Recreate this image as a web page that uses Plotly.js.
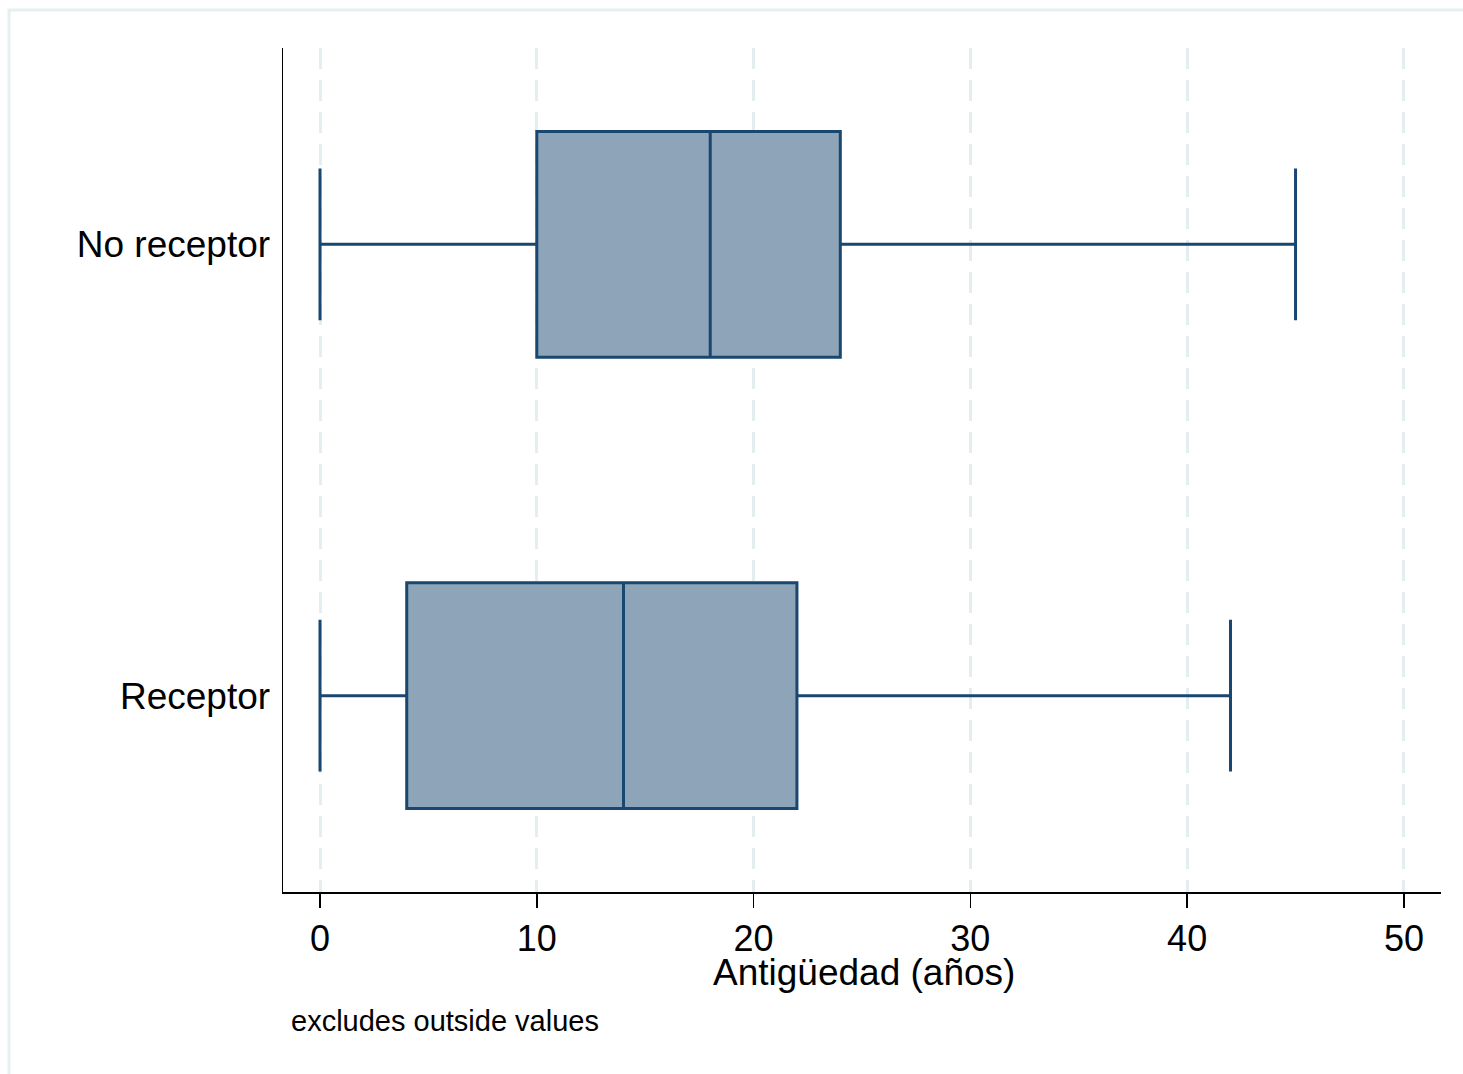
<!DOCTYPE html>
<html>
<head>
<meta charset="utf-8">
<script src="https://cdn.plot.ly/plotly-3.0.1.min.js"></script>
<style>html,body{margin:0;padding:0;background:#fff;}#chart{width:1463px;height:1074px;}</style>
</head>
<body>
<div id="chart"></div>
<script>
// Data (Antigüedad en años)
const groups = ['Receptor', 'No receptor'];
const lowerWhisker = [0, 0];
const q1Values = [4, 10];
const medianValues = [14, 18];
const q3Values = [22, 24];
const upperWhisker = [42, 45];
const xTickValues = [0, 10, 20, 30, 40, 50];
const xTickLabels = ['0', '10', '20', '30', '40', '50'];
const xTitle = 'Antigüedad (años)';
const noteText = 'excludes outside values';

const W = 1463, H = 1074;
const L = 283, R = 22, T = 48, B = 182;
const pw = W - L - R, ph = H - T - B;
const px = v => (v - L) / pw;
const py = v => (H - B - v) / ph;

const trace = {
  type: 'box',
  orientation: 'h',
  y: groups,
  q1: q1Values,
  median: medianValues,
  q3: q3Values,
  lowerfence: lowerWhisker,
  upperfence: upperWhisker,
  width: 0.5,
  whiskerwidth: 0.673,
  fillcolor: '#8ea4b8',
  line: {color: '#1a476f', width: 3},
  boxpoints: false,
  hoverinfo: 'skip',
  showlegend: false
};

const layout = {
  width: W, height: H,
  margin: {l: L, r: R, t: T, b: B, pad: 0},
  paper_bgcolor: '#ffffff',
  plot_bgcolor: '#ffffff',
  font: {family: 'Liberation Sans, Arial, sans-serif', color: '#000000'},
  showlegend: false,
  xaxis: {
    range: [-1.707, 51.71],
    tickmode: 'array',
    tickvals: xTickValues,
    ticktext: xTickLabels,
    ticks: 'outside',
    ticklen: 14,
    tickwidth: 1.5,
    tickcolor: '#000000',
    tickfont: {size: 36, color: '#000000'},
    showline: true,
    linecolor: '#000000',
    linewidth: 1.5,
    showgrid: true,
    gridcolor: '#e4eef0',
    gridwidth: 3,
    griddash: '21px,11px',
    zeroline: false,
    title: {text: ''}
  },
  yaxis: {
    type: 'category',
    range: [-0.435, 1.435],
    ticks: '',
    tickfont: {size: 37, color: '#000000'},
    ticklabelstandoff: 4,
    showline: true,
    linecolor: '#000000',
    linewidth: 1.5,
    showgrid: false,
    zeroline: false
  },
  shapes: [{
    type: 'rect', xref: 'paper', yref: 'paper',
    x0: px(9), x1: px(1480), y0: py(1090), y1: py(10),
    line: {color: '#e6eff1', width: 3},
    fillcolor: 'rgba(0,0,0,0)',
    layer: 'below'
  }],
  annotations: [{
    text: xTitle,
    xref: 'paper', yref: 'paper',
    x: px(864), y: py(972),
    xanchor: 'center', yanchor: 'middle',
    showarrow: false,
    font: {size: 37, color: '#000000'}
  }, {
    text: noteText,
    xref: 'paper', yref: 'paper',
    x: px(289), y: py(1021),
    xanchor: 'left', yanchor: 'middle',
    showarrow: false,
    font: {size: 29, color: '#000000'}
  }]
};

Plotly.newPlot('chart', [trace], layout, {displayModeBar: false, staticPlot: true});
</script>
</body>
</html>
